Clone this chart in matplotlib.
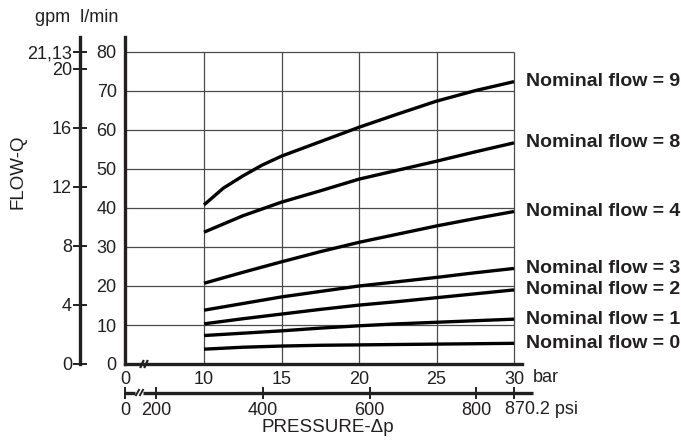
import matplotlib
matplotlib.use("Agg")
import matplotlib.pyplot as plt
from matplotlib.lines import Line2D
from matplotlib.transforms import blended_transform_factory

plt.rcParams['font.family'] = ['Liberation Sans', 'DejaVu Sans']

# ---- data ----
pressure_bar = [10, 12.5, 15, 17.5, 20, 22.5, 25, 27.5, 30]
pressure_bar_9 = [10, 11.25, 12.5, 13.75, 15, 17.5, 20, 22.5, 25, 27.5, 30]
flow9 = [40.8, 45.1, 48.2, 51.0, 53.3, 57.0, 60.7, 64.1, 67.4, 70.1, 72.4]
flow8 = [33.8, 38.0, 41.5, 44.4, 47.4, 49.7, 52.0, 54.4, 56.7]
flow4 = [20.7, 23.5, 26.2, 28.8, 31.2, 33.3, 35.4, 37.3, 39.1]
flow3 = [13.8, 15.5, 17.2, 18.6, 20.0, 21.1, 22.2, 23.4, 24.5]
flow2 = [10.3, 11.6, 12.8, 14.0, 15.1, 16.0, 17.0, 18.0, 19.0]
flow1 = [7.3, 7.9, 8.5, 9.2, 9.8, 10.3, 10.7, 11.1, 11.5]
flow0 = [3.8, 4.3, 4.6, 4.8, 4.9, 5.0, 5.1, 5.2, 5.3]
series_labels = ['Nominal flow = 9', 'Nominal flow = 8', 'Nominal flow = 4',
                 'Nominal flow = 3', 'Nominal flow = 2', 'Nominal flow = 1',
                 'Nominal flow = 0']
bar_ticks = [10, 15, 20, 25, 30]
bar_tick_labels = ['10', '15', '20', '25', '30']
lpm_ticks = [0, 10, 20, 30, 40, 50, 60, 70, 80]
gpm_ticks = [0, 4, 8, 12, 16, 20, 21.13]
gpm_tick_labels = ['0', '4', '8', '12', '16', '20', '21,13']
psi_ticks = [200, 400, 600, 800, 870.2]
psi_tick_labels = ['200', '400', '600', '800', '']
LPM_PER_GPM = 80 / 21.13
PSI_FULL = 870.2   # psi value drawn at the 30 bar position

INK = '#231f20'
W, H = 681, 441
fig = plt.figure(figsize=(W / 100, H / 100), dpi=100)


def fx(px):
    return px / W


def fy(py):
    return 1 - py / H


def seg(x0, y0, x1, y1, lw, color=INK):
    fig.add_artist(Line2D([fx(x0), fx(x1)], [fy(y0), fy(y1)], lw=lw, color=color,
                          transform=fig.transFigure, solid_capstyle='butt', zorder=10))


# axes geometry (pixels)
x_px_left, x_px_right = 125, 522
y_px_bottom, y_px_top = 364, 37
px_per_bar = 15.5
x_left = 10 - (204 - x_px_left) / px_per_bar
x_right = 30 + (x_px_right - 514) / px_per_bar
px_per_lpm = (364 - 52) / 80
y_top = 80 + (y_px_bottom - y_px_top - 312) / px_per_lpm

ax = fig.add_axes([fx(x_px_left), fy(y_px_bottom),
                   (x_px_right - x_px_left) / W, (y_px_bottom - y_px_top) / H])
ax.set_xlim(x_left, x_right)
ax.set_ylim(0, y_top)
ax.patch.set_visible(False)
for s in ['top', 'right']:
    ax.spines[s].set_visible(False)
for s in ['left', 'bottom']:
    ax.spines[s].set_linewidth(2.4)
    ax.spines[s].set_color(INK)

# grid
ax.hlines(lpm_ticks[1:], x_left, 30, color='#4a4a4a', lw=0.9, zorder=1)
ax.vlines(bar_ticks, 0, 80, color='#4a4a4a', lw=0.9, zorder=1)

# curves
all_x = [pressure_bar_9] + [pressure_bar] * 6
all_series = [flow9, flow8, flow4, flow3, flow2, flow1, flow0]
for xs, vals, lab in zip(all_x, all_series, series_labels):
    ax.plot(xs, vals, color='black', lw=2.4, solid_capstyle='butt', zorder=3)
    ax.annotate(lab, xy=(xs[-1], vals[-1]), xytext=(9, 0),
                textcoords='offset points', va='center', ha='left',
                fontsize=14, fontweight='bold', color=INK, annotation_clip=False)

# ticks
ax.set_xticks([x_left] + bar_ticks)
ax.set_xticklabels(['0'] + bar_tick_labels)
ax.set_yticks(lpm_ticks)
ax.set_yticklabels([str(v) for v in lpm_ticks])
ax.tick_params(axis='both', length=0, labelsize=13, colors=INK)
ax.tick_params(axis='x', pad=5)
ax.tick_params(axis='y', pad=6)
fig.text(fx(533), fy(377), 'bar', fontsize=13, color=INK, ha='left', va='center')

# break marks on the bar axis
for xc in (142, 146):
    seg(xc - 1.8, 368, xc + 1.8, 360, 1.6)

# gpm axis
gax = fig.add_axes([fx(80), fy(y_px_bottom), 0.001, (y_px_bottom - y_px_top) / H])
gax.set_ylim(0, y_top)
gax.set_xticks([])
for s in ['top', 'right', 'bottom']:
    gax.spines[s].set_visible(False)
gax.spines['left'].set_linewidth(2.4)
gax.spines['left'].set_color(INK)
gax.set_yticks([g * LPM_PER_GPM for g in gpm_ticks])
gax.set_yticklabels(gpm_tick_labels)
gax.tick_params(axis='y', direction='inout', length=9.5, width=1.4, labelsize=13,
                colors=INK, pad=1)
gax.patch.set_visible(False)

# psi axis
psi_per_bar = PSI_FULL / 30
psi_left = x_left * psi_per_bar
psi_right = (10 + (533 - 204) / px_per_bar) * psi_per_bar
pax = fig.add_axes([fx(x_px_left), fy(393), (533 - x_px_left) / W, 0.001])
pax.set_xlim(psi_left, psi_right)
pax.set_ylim(-1, 1)
for s in pax.spines.values():
    s.set_visible(False)
pax.set_yticks([])
pax.patch.set_visible(False)
seg(125, 392.5, 135, 392.5, 2.4)
seg(143, 392.5, 533, 392.5, 2.4)
for xc in (137.5, 141.5):
    seg(xc - 2, 396, xc + 2, 389, 1.4)
pax.set_xticks([psi_left] + psi_ticks)
pax.set_xticklabels(['0'] + psi_tick_labels)
pax.tick_params(axis='x', direction='inout', length=9, width=1.4, labelsize=13,
                colors=INK, pad=2)
fig.text(fx(505), fy(409), '870.2 psi', fontsize=13, color=INK, ha='left', va='center')

# titles / axis labels
fig.text(fx(35), fy(17), 'gpm  l/min', fontsize=13, color=INK, ha='left', va='center')
fig.text(fx(18), fy(172), 'FLOW-Q', fontsize=13.5, color=INK, rotation=90,
         ha='center', va='center')
fig.text(fx(328), fy(428), 'PRESSURE-Δp', fontsize=13.5, color=INK,
         ha='center', va='center')

fig.savefig('out.png', dpi=100)
